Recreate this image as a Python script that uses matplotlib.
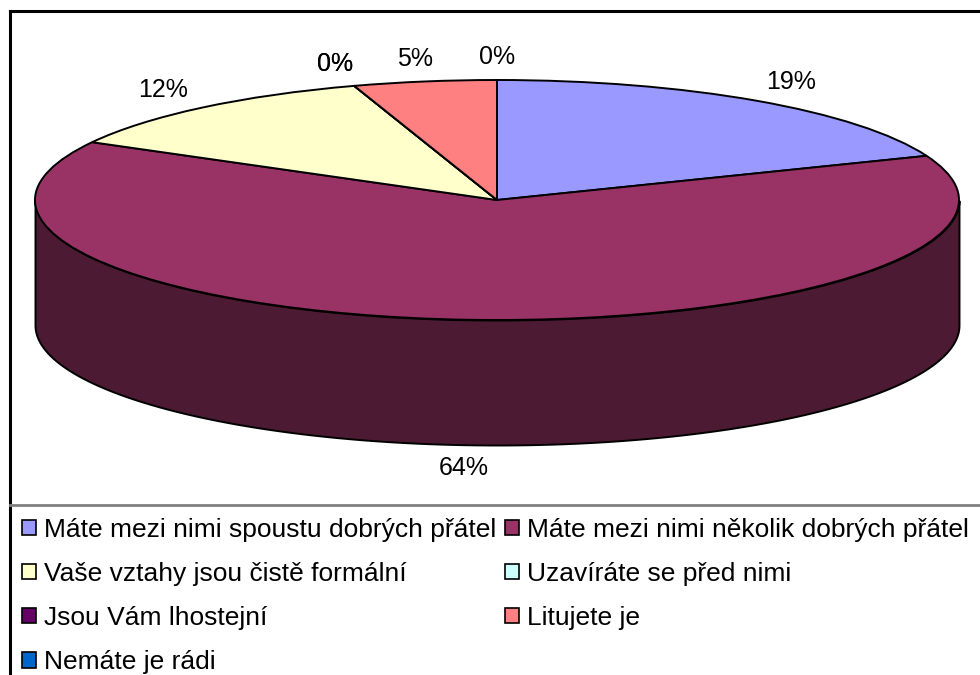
import matplotlib
matplotlib.use("Agg")
import matplotlib.pyplot as plt
import numpy as np
from matplotlib.patches import Patch
from matplotlib.lines import Line2D

plt.rcParams["font.family"] = ["Liberation Sans", "DejaVu Sans"]

labels = [
    "Máte mezi nimi spoustu dobrých přátel",
    "Máte mezi nimi několik dobrých přátel",
    "Vaše vztahy jsou čistě formální",
    "Uzavíráte se před nimi",
    "Jsou Vám lhostejní",
    "Litujete je",
    "Nemáte je rádi",
]
values = [19, 64, 12, 0, 0, 5, 0]  # procenta
colors = ["#9999FF", "#993366", "#FFFFCC", "#CCFFFF", "#660066", "#FF8080", "#0066CC"]

W, H = 980, 675
cx, cy = 497, 200      # stred horni elipsy (px)
rx, ry = 462, 120      # poloosy (px)
depth = 125 / ry       # vyska valce v jednotkach elipsy

fig = plt.figure(figsize=(W / 100, H / 100), dpi=100)
ax = fig.add_axes([0, 0, 1, 1])

wedges, _ = ax.pie(values, colors=colors, startangle=90, counterclock=False,
                   radius=1, center=(0, 0),
                   wedgeprops=dict(edgecolor="black", linewidth=1.4))

# bocni stena (jen predni polovina je videt)
vals = np.array(values, dtype=float)
cum = np.concatenate([[0], np.cumsum(vals) / vals.sum()])
for i in range(len(vals)):
    if vals[i] == 0:
        continue
    t1 = 90 - 360 * cum[i + 1]
    t2 = 90 - 360 * cum[i]
    t = np.radians(np.linspace(t1, t2, 400))
    front = np.sin(t) <= 0
    if not front.any():
        continue
    x = np.cos(t[front])
    y = np.sin(t[front])
    order = np.argsort(x)
    rgb = np.array(matplotlib.colors.to_rgb(colors[i])) * 0.5
    ax.fill_between(x[order], y[order], y[order] - depth, color=rgb,
                    edgecolor="black", linewidth=1.4, zorder=0)

# popisky procent
for i in range(len(vals)):
    mid = np.radians(90 - 360 * (cum[i] + cum[i + 1]) / 2)
    lx = np.cos(mid) * (1 + 62 / rx)
    ly = np.sin(mid) * (1 + 23 / ry)
    if np.sin(mid) < 0:
        ly -= depth
    ax.text(lx, ly, f"{values[i]:.0f}%", ha="center", va="center", fontsize=18)

ax.set_aspect("auto")
ax.set_xlim(-cx / rx, (W - cx) / rx)
ax.set_ylim((cy - H) / ry, cy / ry)
ax.axis("off")


def px(x, y):
    return x / W, 1 - y / H


# ramecek grafu a legendy
fig.add_artist(Line2D(*zip(px(9.5, 11), px(W, 11)), color="black", lw=2.2))
fig.add_artist(Line2D(*zip(px(9.5, 11), px(9.5, H)), color="black", lw=2.2))
fig.add_artist(Line2D(*zip(px(9.5, 505), px(W, 505)), color="#808080", lw=2))

# legenda - poradi po radcich
order = [0, 2, 4, 6, 1, 3, 5]
handles = [Patch(facecolor=colors[k], edgecolor="black", linewidth=1.2) for k in order]
fig.legend(handles, [labels[k] for k in order], ncol=2, loc="upper left",
           bbox_to_anchor=px(22, 518), bbox_transform=fig.transFigure,
           frameon=False, fontsize=19, borderpad=0, borderaxespad=0,
           handlelength=0.52, handleheight=0.52, handletextpad=0.3,
           labelspacing=0.76, columnspacing=0.35)

fig.savefig("out.png", dpi=100)
